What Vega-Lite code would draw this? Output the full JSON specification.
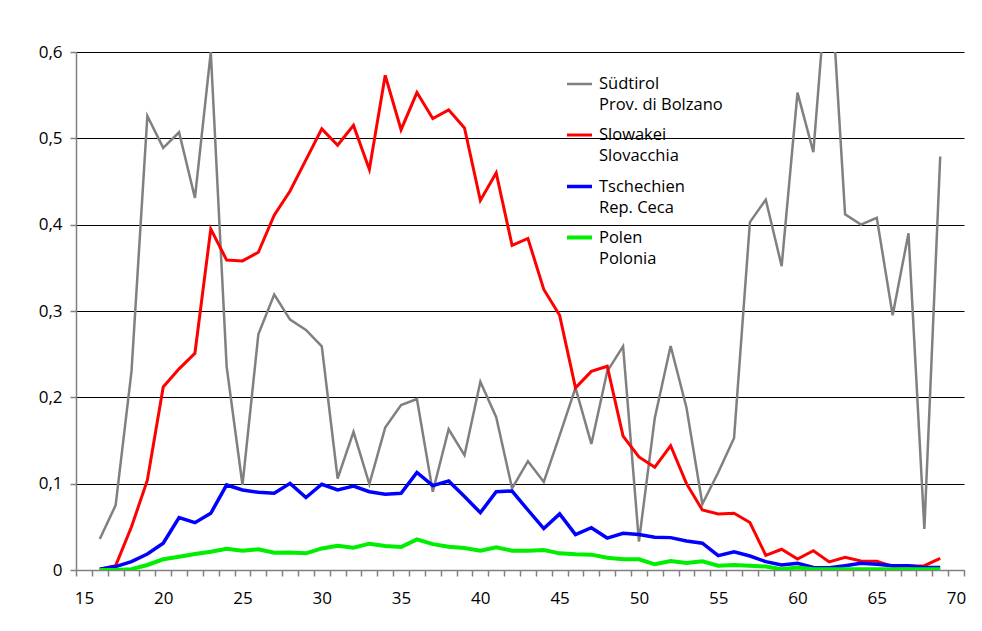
{
  "$schema": "https://vega.github.io/schema/vega-lite/v6.json",
  "width": 888,
  "height": 518,
  "autosize": "none",
  "padding": {"left": 76, "top": 52, "right": 18, "bottom": 61},
  "background": "white",
  "config": {
    "view": {"stroke": null},
    "font": "Open Sans"
  },
  "data": {
    "values": [
      {"age": 16, "Südtirol": 0.036, "Slowakei": 0.001, "Tschechien": 0.001, "Polen": 0.0},
      {"age": 17, "Südtirol": 0.075, "Slowakei": 0.005, "Tschechien": 0.004, "Polen": 0.0},
      {"age": 18, "Südtirol": 0.23, "Slowakei": 0.05, "Tschechien": 0.0097, "Polen": 0.001},
      {"age": 19, "Südtirol": 0.526, "Slowakei": 0.104, "Tschechien": 0.0185, "Polen": 0.0058},
      {"age": 20, "Südtirol": 0.489, "Slowakei": 0.212, "Tschechien": 0.031, "Polen": 0.0124},
      {"age": 21, "Südtirol": 0.507, "Slowakei": 0.233, "Tschechien": 0.0606, "Polen": 0.0154},
      {"age": 22, "Südtirol": 0.431, "Slowakei": 0.251, "Tschechien": 0.0548, "Polen": 0.0185},
      {"age": 23, "Südtirol": 0.6, "Slowakei": 0.395, "Tschechien": 0.0657, "Polen": 0.0212},
      {"age": 24, "Südtirol": 0.2355, "Slowakei": 0.359, "Tschechien": 0.0985, "Polen": 0.0247},
      {"age": 25, "Südtirol": 0.0985, "Slowakei": 0.358, "Tschechien": 0.0927, "Polen": 0.0224},
      {"age": 26, "Südtirol": 0.273, "Slowakei": 0.368, "Tschechien": 0.09, "Polen": 0.024},
      {"age": 27, "Südtirol": 0.319, "Slowakei": 0.411, "Tschechien": 0.0888, "Polen": 0.02},
      {"age": 28, "Südtirol": 0.29, "Slowakei": 0.439, "Tschechien": 0.1004, "Polen": 0.0204},
      {"age": 29, "Südtirol": 0.278, "Slowakei": 0.475, "Tschechien": 0.084, "Polen": 0.0193},
      {"age": 30, "Südtirol": 0.259, "Slowakei": 0.511, "Tschechien": 0.0993, "Polen": 0.025},
      {"age": 31, "Südtirol": 0.106, "Slowakei": 0.492, "Tschechien": 0.0927, "Polen": 0.028},
      {"age": 32, "Südtirol": 0.16, "Slowakei": 0.515, "Tschechien": 0.0973, "Polen": 0.0258},
      {"age": 33, "Südtirol": 0.0996, "Slowakei": 0.464, "Tschechien": 0.0907, "Polen": 0.0305},
      {"age": 34, "Südtirol": 0.165, "Slowakei": 0.573, "Tschechien": 0.0877, "Polen": 0.0278},
      {"age": 35, "Südtirol": 0.191, "Slowakei": 0.51, "Tschechien": 0.0888, "Polen": 0.0266},
      {"age": 36, "Südtirol": 0.198, "Slowakei": 0.553, "Tschechien": 0.113, "Polen": 0.0355},
      {"age": 37, "Südtirol": 0.0907, "Slowakei": 0.523, "Tschechien": 0.0977, "Polen": 0.03},
      {"age": 38, "Südtirol": 0.163, "Slowakei": 0.533, "Tschechien": 0.103, "Polen": 0.027},
      {"age": 39, "Südtirol": 0.133, "Slowakei": 0.512, "Tschechien": 0.085, "Polen": 0.0255},
      {"age": 40, "Südtirol": 0.218, "Slowakei": 0.428, "Tschechien": 0.0664, "Polen": 0.0224},
      {"age": 41, "Südtirol": 0.177, "Slowakei": 0.46, "Tschechien": 0.0907, "Polen": 0.0263},
      {"age": 42, "Südtirol": 0.0946, "Slowakei": 0.376, "Tschechien": 0.0915, "Polen": 0.0224},
      {"age": 43, "Südtirol": 0.126, "Slowakei": 0.384, "Tschechien": 0.0695, "Polen": 0.0224},
      {"age": 44, "Südtirol": 0.102, "Slowakei": 0.325, "Tschechien": 0.048, "Polen": 0.0232},
      {"age": 45, "Südtirol": 0.156, "Slowakei": 0.295, "Tschechien": 0.065, "Polen": 0.0193},
      {"age": 46, "Südtirol": 0.211, "Slowakei": 0.211, "Tschechien": 0.041, "Polen": 0.0182},
      {"age": 47, "Südtirol": 0.146, "Slowakei": 0.23, "Tschechien": 0.049, "Polen": 0.0178},
      {"age": 48, "Südtirol": 0.23, "Slowakei": 0.236, "Tschechien": 0.037, "Polen": 0.0143},
      {"age": 49, "Südtirol": 0.259, "Slowakei": 0.155, "Tschechien": 0.0425, "Polen": 0.0124},
      {"age": 50, "Südtirol": 0.033, "Slowakei": 0.131, "Tschechien": 0.041, "Polen": 0.0124},
      {"age": 51, "Südtirol": 0.176, "Slowakei": 0.119, "Tschechien": 0.038, "Polen": 0.0066},
      {"age": 52, "Südtirol": 0.2595, "Slowakei": 0.144, "Tschechien": 0.0375, "Polen": 0.0104},
      {"age": 53, "Südtirol": 0.188, "Slowakei": 0.1, "Tschechien": 0.0336, "Polen": 0.008},
      {"age": 54, "Südtirol": 0.0765, "Slowakei": 0.0695, "Tschechien": 0.031, "Polen": 0.01},
      {"age": 55, "Südtirol": 0.113, "Slowakei": 0.065, "Tschechien": 0.0166, "Polen": 0.005},
      {"age": 56, "Südtirol": 0.153, "Slowakei": 0.0657, "Tschechien": 0.021, "Polen": 0.0058},
      {"age": 57, "Südtirol": 0.403, "Slowakei": 0.055, "Tschechien": 0.0162, "Polen": 0.005},
      {"age": 58, "Südtirol": 0.429, "Slowakei": 0.017, "Tschechien": 0.0097, "Polen": 0.004},
      {"age": 59, "Südtirol": 0.352, "Slowakei": 0.024, "Tschechien": 0.0058, "Polen": 0.001},
      {"age": 60, "Südtirol": 0.553, "Slowakei": 0.0127, "Tschechien": 0.0077, "Polen": 0.003},
      {"age": 61, "Südtirol": 0.484, "Slowakei": 0.0224, "Tschechien": 0.003, "Polen": 0.001},
      {"age": 62, "Südtirol": 0.715, "Slowakei": 0.0093, "Tschechien": 0.0027, "Polen": 0.001},
      {"age": 63, "Südtirol": 0.412, "Slowakei": 0.0147, "Tschechien": 0.005, "Polen": 0.001},
      {"age": 64, "Südtirol": 0.4, "Slowakei": 0.0104, "Tschechien": 0.0077, "Polen": 0.001},
      {"age": 65, "Südtirol": 0.408, "Slowakei": 0.01, "Tschechien": 0.0066, "Polen": 0.001},
      {"age": 66, "Südtirol": 0.295, "Slowakei": 0.004, "Tschechien": 0.005, "Polen": 0.001},
      {"age": 67, "Südtirol": 0.39, "Slowakei": 0.0046, "Tschechien": 0.005, "Polen": 0.001},
      {"age": 68, "Südtirol": 0.0475, "Slowakei": 0.005, "Tschechien": 0.003, "Polen": 0.001},
      {"age": 69, "Südtirol": 0.479, "Slowakei": 0.0135, "Tschechien": 0.003, "Polen": 0.001}
    ]
  },
  "transform": [
    {"fold": ["Südtirol", "Slowakei", "Tschechien", "Polen"], "as": ["series", "value"]}
  ],
  "mark": {"type": "line", "clip": true},
  "encoding": {
    "x": {
      "field": "age",
      "type": "quantitative",
      "scale": {"domain": [14.5, 70.5], "nice": false, "zero": false},
      "axis": {
        "title": null,
        "values": [14.5, 15.5, 16.5, 17.5, 18.5, 19.5, 20.5, 21.5, 22.5, 23.5, 24.5, 25.5, 26.5, 27.5, 28.5, 29.5, 30.5, 31.5, 32.5, 33.5, 34.5, 35.5, 36.5, 37.5, 38.5, 39.5, 40.5, 41.5, 42.5, 43.5, 44.5, 45.5, 46.5, 47.5, 48.5, 49.5, 50.5, 51.5, 52.5, 53.5, 54.5, 55.5, 56.5, 57.5, 58.5, 59.5, 60.5, 61.5, 62.5, 63.5, 64.5, 65.5, 66.5, 67.5, 68.5, 69.5, 70.5],
        "labelExpr": "(datum.value + 0.5) % 5 == 0 ? format(datum.value + 0.5, 'd') : ''",
        "labelOffset": 7.9,
        "labelAlign": "center",
        "labelOverlap": false,
        "labelBound": false,
        "labelFlush": false,
        "labelFontSize": 17,
        "labelColor": "#000000",
        "labelPadding": 14,
        "tickSize": 6,
        "tickColor": "#808080",
        "tickWidth": 1.5,
        "domainColor": "#808080",
        "domainWidth": 1.5,
        "grid": false
      }
    },
    "y": {
      "field": "value",
      "type": "quantitative",
      "scale": {"domain": [0, 0.6], "nice": false, "zero": true},
      "axis": {
        "title": null,
        "values": [0, 0.1, 0.2, 0.3, 0.4, 0.5, 0.6],
        "labelExpr": "datum.value == 0 ? '0' : replace(format(datum.value, '.1f'), '.', ',')",
        "labelFontSize": 17,
        "labelColor": "#000000",
        "labelPadding": 8,
        "tickSize": 6,
        "tickColor": "#808080",
        "tickWidth": 1.5,
        "domainColor": "#808080",
        "domainWidth": 1.5,
        "grid": true,
        "gridColor": "#000000",
        "gridWidth": 1,
        "gridOpacity": 1
      }
    },
    "color": {
      "field": "series",
      "type": "nominal",
      "scale": {
        "domain": ["Südtirol", "Slowakei", "Tschechien", "Polen"],
        "range": ["#808080", "#ff0000", "#0000ff", "#00ee00"]
      },
      "legend": {
        "title": null,
        "orient": "none",
        "legendX": 489,
        "legendY": 18,
        "padding": 0,
        "symbolType": "stroke",
        "symbolSize": 625,
        "symbolStrokeWidth": 4,
        "labelFontSize": 16.5,
        "labelColor": "#000000",
        "labelOffset": 5,
        "labelLimit": 300,
        "rowPadding": 7,
        "labelExpr": "datum.label == 'Südtirol' ? ['Südtirol', 'Prov. di Bolzano'] : datum.label == 'Slowakei' ? ['Slowakei', 'Slovacchia'] : datum.label == 'Tschechien' ? ['Tschechien', 'Rep. Ceca'] : ['Polen', 'Polonia']",
        "encode": {"labels": {"update": {"lineHeight": {"value": 21}}}}
      }
    },
    "strokeWidth": {
      "field": "series",
      "type": "nominal",
      "scale": {
        "domain": ["Südtirol", "Slowakei", "Tschechien", "Polen"],
        "range": [2.5, 4, 4, 4]
      },
      "legend": null
    }
  }
}
